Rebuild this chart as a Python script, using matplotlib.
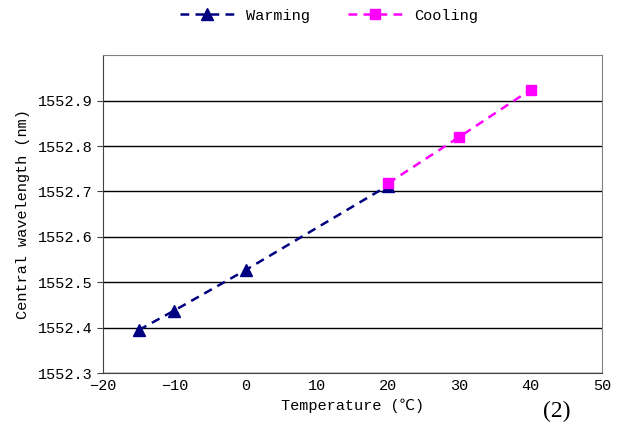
import matplotlib.pyplot as plt

# data
warm_t = [-15, -10, 0, 20]
warm_wl = [1552.395, 1552.438, 1552.527, 1552.713]
cool_t = [20, 30, 40]
cool_wl = [1552.718, 1552.820, 1552.924]

yticks = [1552.3, 1552.4, 1552.5, 1552.6, 1552.7, 1552.8, 1552.9]
xticks = [-20, -10, 0, 10, 20, 30, 40, 50]

mono = "Liberation Mono"

fig = plt.figure(figsize=(6.21, 4.28), dpi=100)
ax = fig.add_axes([0.166, 0.128, 0.803, 0.743])

ax.plot(warm_t, warm_wl, "--", color="#000080", marker="^", markersize=8,
        linewidth=1.8, dashes=(3.5, 2.5), label="Warming")
ax.plot(cool_t, cool_wl, "--", color="#FF00FF", marker="s", markersize=7,
        linewidth=1.8, dashes=(3.5, 2.5), label="Cooling")

ax.set_xlim(-20, 50)
ax.set_ylim(1552.3, 1553.0)
ax.set_xticks(xticks)
ax.set_xticklabels(["\u221220", "\u221210", "0", "10", "20", "30", "40", "50"],
                   fontfamily=mono, fontsize=11)
ax.set_yticks(yticks)
ax.set_yticklabels(["%.1f" % v for v in yticks], fontfamily=mono, fontsize=11)
ax.yaxis.grid(True, color="black", linewidth=1.0)
ax.set_axisbelow(True)
for s in ax.spines.values():
    s.set_color("#808080")
ax.spines["left"].set_color("#404040")
ax.spines["bottom"].set_color("#404040")
ax.tick_params(axis="x", length=0, pad=4)
ax.tick_params(axis="y", length=4, color="#404040")

ax.set_xlabel("Temperature (\u2103)", fontfamily=["Liberation Mono", "Noto Sans CJK SC"],
              fontsize=11, labelpad=4)
ax.set_ylabel("Central wavelength (nm)", fontfamily=mono, fontsize=11, labelpad=6)

fig.legend(loc="upper center", bbox_to_anchor=(0.53, 1.012), ncol=2, frameon=False,
           prop={"family": mono, "size": 11}, handlelength=3.5, columnspacing=2.5)

fig.text(0.897, 0.025, "(2)", fontfamily="Liberation Serif", fontsize=17, ha="center")

fig.savefig("out.png", dpi=100)
